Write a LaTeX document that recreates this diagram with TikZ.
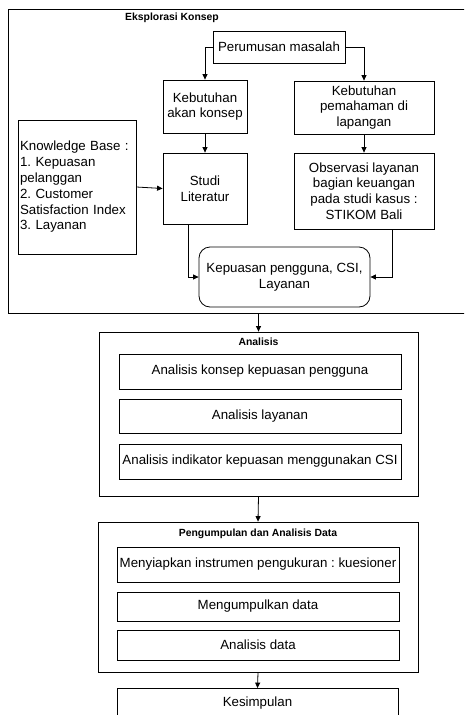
\documentclass[tikz,border=0pt]{standalone}
\usepackage{fontspec}
\setmainfont{Liberation Sans}
\usetikzlibrary{arrows.meta,calc}
\frenchspacing
\newcommand\mainfs{\fontsize{13.3}{15.8}\selectfont}
\newcommand\titlefs{\fontsize{10.4}{12}\selectfont\bfseries}
\begin{document}
\begin{tikzpicture}[x=1pt,y=-1pt,
  box/.style={draw=black, line width=0.8pt, align=center, inner sep=1pt, font=\mainfs},
  frame/.style={draw=black, line width=0.8pt, inner sep=0pt},
  ttl/.style={font=\titlefs, inner sep=0pt},
  arr/.style={-{Triangle[length=5.5pt,width=5pt]}, line width=0.8pt}]
\useasboundingbox (0,0) rectangle (464,715);
\clip (0,0) rectangle (464,715);
\fill[white] (0,0) rectangle (464,715);
% frames
\node[frame, minimum width=472pt, minimum height=304pt] (eks) at (244,161) {};
\node[ttl] (eksT) at (172,18) {Eksplorasi Konsep};
\node[frame, minimum width=319pt, minimum height=164pt] (ana) at (258.5,414) {};
\node[ttl] (anaT) at (258.5,342) {Analisis};
\node[frame, minimum width=320pt, minimum height=150pt] (pen) at (258,597) {};
\node[ttl] (penT) at (258,534) {Pengumpulan dan Analisis Data};
% top section
\node[box, minimum width=132pt, minimum height=32pt] (per) at (279,47) {Perumusan masalah};
\node[box, minimum width=84pt, minimum height=53pt] (kak) at (205,106.5) {Kebutuhan\\akan konsep};
\node[box, minimum width=140pt, minimum height=53pt] (kpl) at (364,107.5) {Kebutuhan\\pemahaman di\\lapangan};
\node[box, minimum width=118pt, minimum height=134pt, align=left, text width=114pt, inner sep=2pt] (kb) at (77,187) {Knowledge Base :\\1. Kepuasan\\pelanggan\\2. Customer\\Satisfaction Index\\3. Layanan};
\node[box, minimum width=84pt, minimum height=71pt] (stu) at (205,188.5) {Studi\\Literatur};
\node[box, minimum width=140pt, minimum height=76pt] (obs) at (364,191) {Observasi layanan\\bagian keuangan\\pada studi kasus :\\STIKOM Bali};
\node[box, rounded corners=11pt, minimum width=171pt, minimum height=60pt] (kep) at (284.5,277) {Kepuasan pengguna, CSI,\\Layanan};
% analisis
\node[box, minimum width=282pt, minimum height=35pt] (a1) at (260,371.5) {Analisis konsep kepuasan pengguna};
\node[box, minimum width=282pt, minimum height=34pt] (a2) at (260,416) {Analisis layanan};
\node[box, minimum width=282pt, minimum height=35pt] (a3) at (260,461.5) {Analisis indikator kepuasan menggunakan CSI};
% pengumpulan
\node[box, minimum width=282pt, minimum height=35pt] (p1) at (258,564.5) {Menyiapkan instrumen pengukuran : kuesioner};
\node[box, minimum width=282pt, minimum height=29pt] (p2) at (258,606.5) {Mengumpulkan data};
\node[box, minimum width=282pt, minimum height=30pt] (p3) at (258,645) {Analisis data};
\node[box, minimum width=281pt, minimum height=30pt] (kes) at (257.5,703.5) {Kesimpulan};
\draw[line width=0.8pt] (kes.south west) -- ++(0,20) (kes.south east) -- ++(0,20);
% arrows
\draw[arr] (per.west) -| (kak.north);
\draw[arr] (per.east) -| (kpl.north);
\draw[arr] (kak.south) -- (stu.north);
\draw[arr] (kpl.south) -- (obs.north);
\draw[arr] (kb.east) -- (stu.west);
\draw[arr] ($(stu.south)+(-17,0)$) |- (kep.west);
\draw[arr] ($(obs.south)+(28,0)$) |- (kep.east);
\draw[arr] (ana.north |- eks.south) -- (ana.north);
\draw[arr] (ana.south) -- (pen.north);
\draw[arr] (pen.south) -- (kes.north);
\end{tikzpicture}
\end{document}
